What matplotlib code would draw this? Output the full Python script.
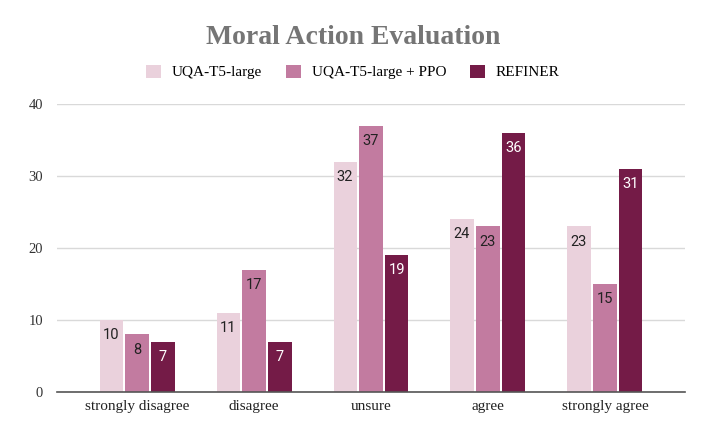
import matplotlib
matplotlib.use("Agg")
import matplotlib.pyplot as plt
import numpy as np

categories = ["strongly disagree", "disagree", "unsure", "agree", "strongly agree"]
series_names = ["UQA-T5-large", "UQA-T5-large + PPO", "REFINER"]
uqa = [10, 11, 32, 24, 23]
uqa_ppo = [8, 17, 37, 23, 15]
refiner = [7, 7, 19, 36, 31]
y_ticks = [0, 10, 20, 30, 40]

colors = ["#ead1dc", "#c27ba0", "#741b47"]
label_colors = ["#222222", "#222222", "#ffffff"]
serif = "Liberation Serif"

fig = plt.figure(figsize=(7.06, 4.37), dpi=100)
ax = fig.add_axes([57/706, 1-392/437, (685-57)/706, (392-104)/437])

x = np.arange(len(categories))
w = 0.197
step = 0.222
for i, (vals, c, lc) in enumerate(zip([uqa, uqa_ppo, refiner], colors, label_colors)):
    pos = x + (i - 1) * step
    bars = ax.bar(pos, vals, width=w, color=c, label=series_names[i], zorder=3)
    for b, v in zip(bars, vals):
        ax.annotate(str(v), (b.get_x() + b.get_width()/2, v), xytext=(0, -11),
                    textcoords="offset points", ha="center", va="center",
                    fontsize=10.5, family="Roboto", color=lc, zorder=4)

ax.set_xlim(-0.684, 4.684)
ax.set_ylim(0, 40)
ax.set_yticks(y_ticks)
ax.set_yticklabels([str(t) for t in y_ticks], family=serif, fontsize=10.5, color="#333333")
ax.set_xticks(x)
ax.set_xticklabels(categories, family=serif, fontsize=11, color="#222222")
ax.tick_params(axis="both", length=0)
ax.tick_params(axis="y", pad=10)
ax.tick_params(axis="x", pad=6)
ax.grid(axis="y", color="#d9d9d9", linewidth=1, zorder=0)
for s in ["top", "right", "left"]:
    ax.spines[s].set_visible(False)
ax.spines["bottom"].set_color("#555555")
ax.spines["bottom"].set_linewidth(1.2)
ax.spines["bottom"].set_zorder(5)

fig.text(0.5, 1-37/437, "Moral Action Evaluation", ha="center", va="center",
         family=serif, fontweight="bold", fontsize=20, color="#757575")

leg = fig.legend(loc="center", bbox_to_anchor=(0.5, 1-72/437), ncol=3, frameon=False,
                 prop={"family": serif, "size": 11}, handlelength=0.95, handleheight=0.95,
                 columnspacing=1.6, handletextpad=0.7)

fig.savefig("out.png", dpi=100)
